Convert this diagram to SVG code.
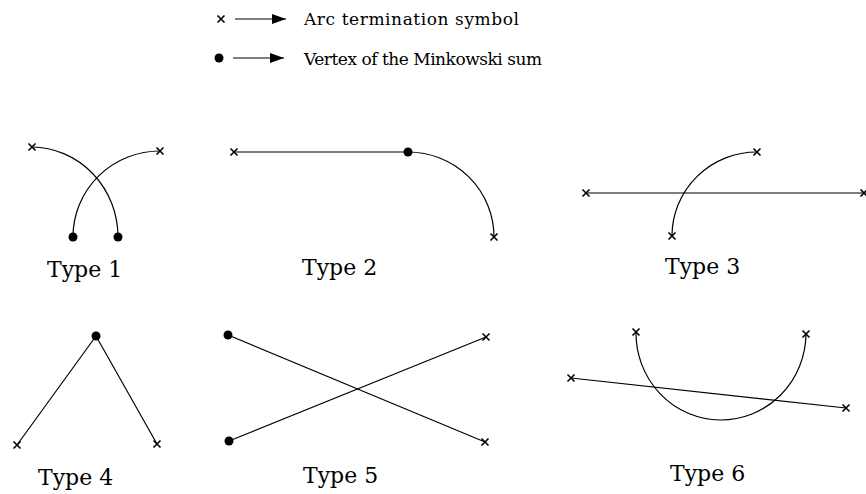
<svg xmlns="http://www.w3.org/2000/svg" width="866" height="494" viewBox="0 0 866 494">
  <defs>
    <style>
      .ln { fill: none; stroke: #000; stroke-width: 1.2; }
      .dot { fill: #000; }
      .lbl { font-family: "DejaVu Serif", "Liberation Serif", serif; font-size: 22px; fill: #000; }
      .leg { font-family: "DejaVu Serif", "Liberation Serif", serif; font-size: 17px; fill: #000; }
    </style>
    <!-- arc termination symbol -->
    <path id="xm" d="M-3.5,-3.5 L3.5,3.5 M-3.5,3.5 L3.5,-3.5" fill="none" stroke="#000" stroke-width="1.6"/>
    <marker id="ah" viewBox="0 0 14 10" refX="14" refY="5" markerWidth="14" markerHeight="10" markerUnits="userSpaceOnUse" orient="auto">
      <path d="M0,0 L14,5 L0,10 Z" fill="#000"/>
    </marker>
  </defs>
  <rect width="866" height="494" fill="#fff"/>

  <!-- legend -->
  <g id="legend">
    <use href="#xm" x="221" y="19"/>
    <line class="ln" x1="235" y1="19" x2="286" y2="19" marker-end="url(#ah)"/>
    <text class="leg" x="304" y="25" textLength="215" lengthAdjust="spacing">Arc termination symbol</text>
    <circle class="dot" cx="219" cy="58" r="4.5"/>
    <line class="ln" x1="233" y1="58" x2="284" y2="58" marker-end="url(#ah)"/>
    <text class="leg" x="304" y="65" textLength="238" lengthAdjust="spacing">Vertex of the Minkowski sum</text>
  </g>

  <g id="connectors">
    <!-- type 1 -->
    <path class="ln" d="M32,147 A87,90 0 0 1 118,237"/>
    <path class="ln" d="M73,237 A87,86 0 0 1 160,151"/>
    <!-- type 2 -->
    <path class="ln" d="M234,152 L408,152"/>
    <path class="ln" d="M408,152 A86,85 0 0 1 494,237"/>
    <!-- type 3 -->
    <path class="ln" d="M586,193 L864,193"/>
    <path class="ln" d="M672,236 A85,84 0 0 1 757,152"/>
    <!-- type 4 -->
    <path class="ln" d="M17,445 L96,336 L157,444"/>
    <!-- type 5 -->
    <path class="ln" d="M228,335 L485,442"/>
    <path class="ln" d="M229,441 L486,337"/>
    <!-- type 6 -->
    <path class="ln" d="M636,332 A85,87 0 0 0 806,334"/>
    <path class="ln" d="M571,378 L846,408"/>
  </g>

  <g id="type1">
    <use href="#xm" x="32" y="147"/>
    <use href="#xm" x="160" y="151"/>
    <circle class="dot" cx="73" cy="237" r="4.5"/>
    <circle class="dot" cx="118" cy="237" r="4.5"/>
    <text class="lbl" x="47" y="277">Type 1</text>
  </g>

  <g id="type2">
    <use href="#xm" x="234" y="152"/>
    <circle class="dot" cx="408" cy="152" r="4.5"/>
    <use href="#xm" x="494" y="237"/>
    <text class="lbl" x="302" y="275">Type 2</text>
  </g>

  <g id="type3">
    <use href="#xm" x="586" y="193"/>
    <use href="#xm" x="864" y="193"/>
    <use href="#xm" x="672" y="236"/>
    <use href="#xm" x="757" y="152"/>
    <text class="lbl" x="665" y="274">Type 3</text>
  </g>

  <g id="type4">
    <circle class="dot" cx="96" cy="336" r="4.5"/>
    <use href="#xm" x="17" y="445"/>
    <use href="#xm" x="157" y="444"/>
    <text class="lbl" x="38" y="485">Type 4</text>
  </g>

  <g id="type5">
    <circle class="dot" cx="228" cy="335" r="4.5"/>
    <circle class="dot" cx="229" cy="441" r="4.5"/>
    <use href="#xm" x="486" y="337"/>
    <use href="#xm" x="485" y="442"/>
    <text class="lbl" x="303" y="483">Type 5</text>
  </g>

  <g id="type6">
    <use href="#xm" x="636" y="332"/>
    <use href="#xm" x="806" y="334"/>
    <use href="#xm" x="571" y="378"/>
    <use href="#xm" x="846" y="408"/>
    <text class="lbl" x="670" y="481">Type 6</text>
  </g>
</svg>
